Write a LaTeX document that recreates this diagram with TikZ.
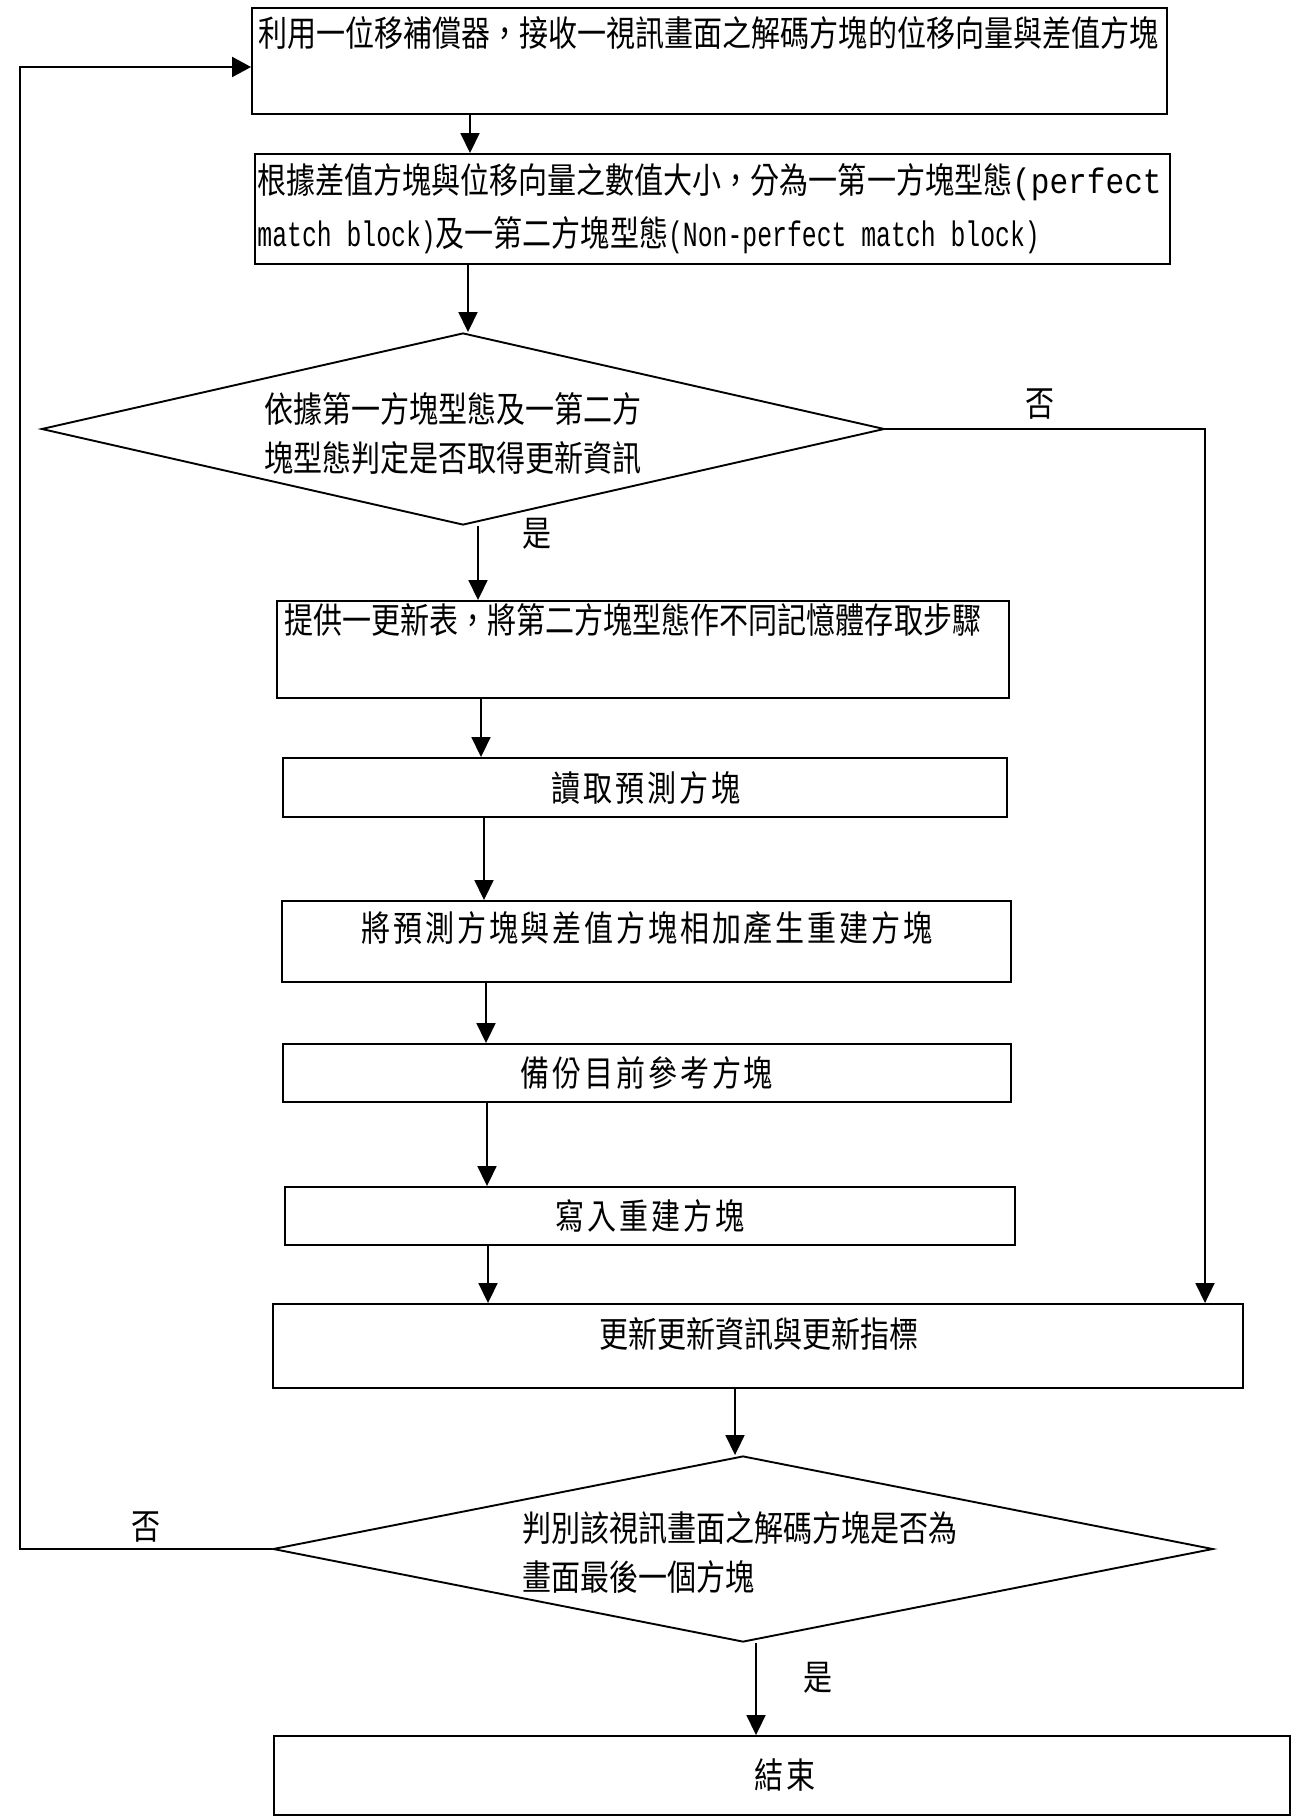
\documentclass[tikz,border=0pt]{standalone}
\usepackage{fontspec}
\newfontfamily\cjk[FakeStretch=0.82]{Noto Sans CJK TC}
\newfontfamily\cjkw[FakeStretch=0.82,LetterSpace=8]{Noto Sans CJK TC}
\newfontfamily\latm[FakeStretch=0.7]{Liberation Mono}
\newfontfamily\latmw[FakeStretch=0.88]{Liberation Mono}
\usetikzlibrary{shapes.geometric,arrows.meta}
\begin{document}
\begin{tikzpicture}[x=0.5pt,y=-0.5pt,
  box/.style={draw, line width=0.95pt, inner sep=0pt, rectangle},
  dia/.style={draw, line width=0.95pt, inner sep=0pt, diamond},
  txt/.style={inner sep=0pt, font=\cjk\fontsize{17.7}{24.5}\selectfont, align=left},
  wtxt/.style={inner sep=0pt, font=\cjkw\fontsize{17.7}{24.5}\selectfont, align=left},
  arr/.style={line width=0.9pt, -{Triangle[length=10pt,width=9.5pt]}},
  looparr/.style={line width=1.1pt, -{Triangle[length=9.5pt,width=10pt]}}]
\useasboundingbox (0,0) rectangle (1292,1818);

% x positions of connectors
\coordinate (x1) at (470,0);
\coordinate (x2) at (468,0);
\coordinate (x3) at (478,0);
\coordinate (x4) at (481,0);
\coordinate (x5) at (484,0);
\coordinate (x6) at (486,0);
\coordinate (x7) at (487,0);
\coordinate (x8) at (488,0);
\coordinate (x9) at (735,0);
\coordinate (x10) at (756,0);
\coordinate (lp) at (20,0);
\coordinate (rp) at (1205,0);

% boxes
\node[box, minimum width=457.5pt, minimum height=53pt] (b1) at (709.5,61) {};
\node[txt, anchor=west] (t1) at (258,33) {利用一位移補償器，接收一視訊畫面之解碼方塊的位移向量與差值方塊};
\coordinate (in1) at ([yshift=-3pt]b1.west);

\node[box, minimum width=457.5pt, minimum height=55pt] (b2) at (712.5,209) {};
\node[txt, anchor=west, font=\cjk\fontsize{17.7}{26.5}\selectfont] (t2) at (257,208.5) {根據差值方塊與位移向量之數值大小，分為一第一方塊型態{\latmw (perfect}\\{\latm match block)}及一第二方塊型態{\latm (Non-perfect match block)}};

\node[dia, minimum width=421.5pt, minimum height=96pt] (d1) at (463,429) {};
\node[txt, anchor=west] (td1) at (264,433.5) {依據第一方塊型態及一第二方\\塊型態判定是否取得更新資訊};

\node[box, minimum width=366pt, minimum height=48.5pt] (b3) at (643,649.5) {};
\node[txt, anchor=west] (t3) at (284,620) {提供一更新表，將第二方塊型態作不同記憶體存取步驟};

\node[box, minimum width=362pt, minimum height=29.5pt] (b4) at (645,787.5) {};
\node[wtxt] (t4) at (646,788) {讀取預測方塊};

\node[box, minimum width=364.5pt, minimum height=40.5pt] (b5) at (646.5,941.5) {};
\node[wtxt] (t5) at (647,928) {將預測方塊與差值方塊相加產生重建方塊};

\node[box, minimum width=364pt, minimum height=29pt] (b6) at (647,1073) {};
\node[wtxt] (t6) at (647,1073) {備份目前參考方塊};

\node[box, minimum width=365pt, minimum height=29pt] (b7) at (650,1216) {};
\node[wtxt] (t7) at (650,1216) {寫入重建方塊};

\node[box, minimum width=485pt, minimum height=42pt] (b8) at (758,1346) {};
\node[txt] (t8) at (759,1334) {更新更新資訊與更新指標};

\node[dia, minimum width=470pt, minimum height=93pt] (d2) at (743,1549) {};
\node[txt, anchor=west] (td2) at (522,1552.5) {判別該視訊畫面之解碼方塊是否為\\畫面最後一個方塊};

\node[box, minimum width=508pt, minimum height=39.5pt] (b9) at (782,1775.5) {};
\node[wtxt] (t9) at (785,1775) {結束};

% labels
\node[txt] (l1) at (1040,404) {否};
\node[txt] (l2) at (537,534) {是};
\node[txt] (l3) at (146,1527) {否};
\node[txt] (l4) at (818,1678) {是};

% connectors
\draw[arr] (b1.south -| x1) -- (b2.north -| x1);
\draw[arr] (b2.south -| x2) -- (d1.north -| x2);
\draw[arr] (d1.south -| x3) -- (b3.north -| x3);
\draw[arr] (b3.south -| x4) -- (b4.north -| x4);
\draw[arr] (b4.south -| x5) -- (b5.north -| x5);
\draw[arr] (b5.south -| x6) -- (b6.north -| x6);
\draw[arr] (b6.south -| x7) -- (b7.north -| x7);
\draw[arr] (b7.south -| x8) -- (b8.north -| x8);
\draw[arr] (b8.south -| x9) -- (d2.north -| x9);
\draw[arr] (d2.south -| x10) -- (b9.north -| x10);
\draw[arr] (d1.east) -- (d1.east -| rp) -- (rp |- b8.north);
\draw[looparr] (d2.west) -- (d2.west -| lp) -- (lp |- in1) -- (in1);
\end{tikzpicture}
\end{document}
